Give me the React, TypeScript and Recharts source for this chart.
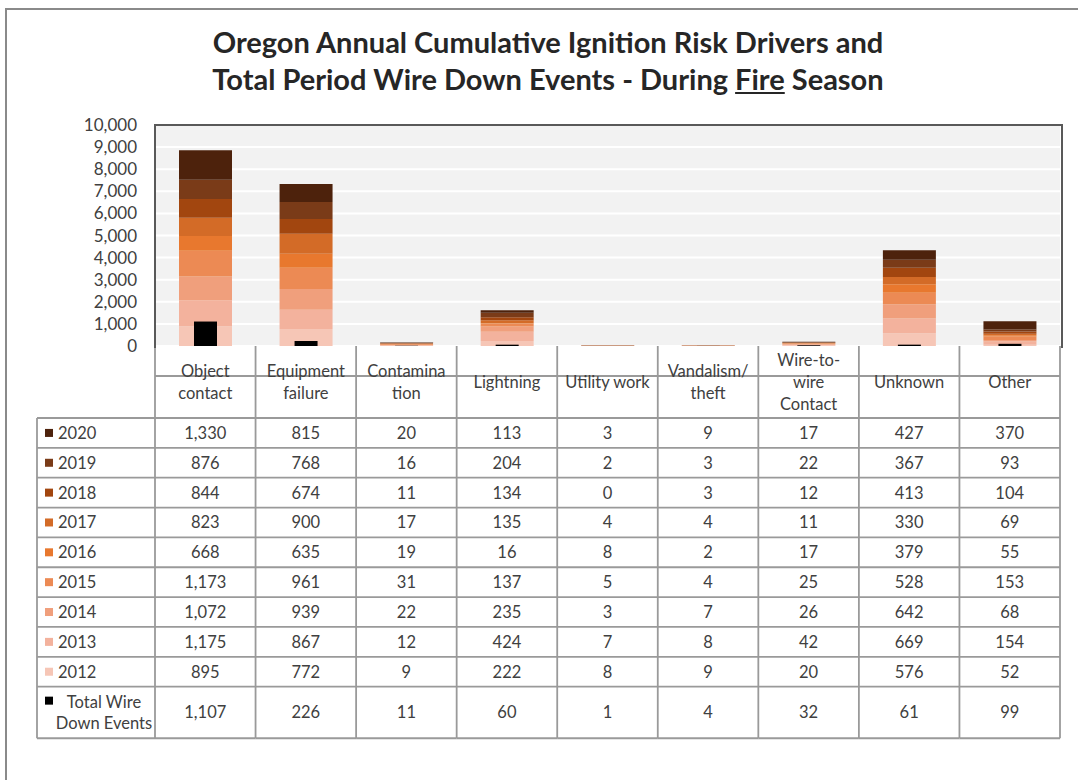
import React from 'react';
import { BarChart, Bar, XAxis, YAxis, CartesianGrid } from 'recharts';

const categories = ['Object contact', 'Equipment failure', 'Contamination', 'Lightning', 'Utility work', 'Vandalism/theft', 'Wire-to-wire Contact', 'Unknown', 'Other'];
const categoryLines = [['Object', 'contact'], ['Equipment', 'failure'], ['Contamina', 'tion'], ['Lightning'], ['Utility work'], ['Vandalism/', 'theft'], ['Wire-to-', 'wire', 'Contact'], ['Unknown'], ['Other']];

// table order, top row first
const years = ['2020', '2019', '2018', '2017', '2016', '2015', '2014', '2013', '2012'];
const v2020 = [1330, 815, 20, 113, 3, 9, 17, 427, 370];
const v2019 = [876, 768, 16, 204, 2, 3, 22, 367, 93];
const v2018 = [844, 674, 11, 134, 0, 3, 12, 413, 104];
const v2017 = [823, 900, 17, 135, 4, 4, 11, 330, 69];
const v2016 = [668, 635, 19, 16, 8, 2, 17, 379, 55];
const v2015 = [1173, 961, 31, 137, 5, 4, 25, 528, 153];
const v2014 = [1072, 939, 22, 235, 3, 7, 26, 642, 68];
const v2013 = [1175, 867, 12, 424, 7, 8, 42, 669, 154];
const v2012 = [895, 772, 9, 222, 8, 9, 20, 576, 52];
const totalWireDown = [1107, 226, 11, 60, 1, 4, 32, 61, 99];
const yearValues = [v2020, v2019, v2018, v2017, v2016, v2015, v2014, v2013, v2012];
const yearColors = ['#4d220c', '#7a3b18', '#a2460f', '#d36b27', '#e8782e', '#ec8a54', '#f09f7c', '#f3b29d', '#f6c6b6'];
const yTicks = [0, 1000, 2000, 3000, 4000, 5000, 6000, 7000, 8000, 9000, 10000];

const data = categories.map((cat, i) => {
  const row: any = { cat, total: totalWireDown[i] };
  years.forEach((yr, j) => {
    row['y' + yr] = yearValues[j][i];
  });
  return row;
});

const FONT = 'Lato, "Noto Sans", sans-serif';
const TEXT = '#404040';
const GRID = '#9a9a9a';
const PLOT_L = 155;
const PLOT_R = 1060;
const PLOT_T = 125;
const PLOT_B = 346;
const BAND = (PLOT_R - PLOT_L) / categories.length;
const HEAD_H = 72;
const ROW_H = 29.85;
const LAST_H = 51.6;
const TABLE_L = 37;

const fmt = (n: number) => n.toLocaleString('en-US');

// one table column per category tick; the first one also draws the legend column
const TableColumn = (props: any) => {
  const { x, index } = props;
  const y = PLOT_B;
  const left = x - BAND / 2;
  const right = x + BAND / 2;
  const rowTop = y + HEAD_H;
  const bottom = rowTop + ROW_H * years.length + LAST_H;
  const lines = categoryLines[index];
  const txt = { fontFamily: FONT, fontSize: 16.5, fill: TEXT, textAnchor: 'middle' as const, dominantBaseline: 'central' as const };

  const hLines = [];
  for (let r = 0; r <= years.length; r++) {
    hLines.push(rowTop + r * ROW_H);
  }
  hLines.push(bottom);

  return (
    <g>
      <line x1={left} x2={left} y1={y} y2={bottom} stroke={GRID} strokeWidth={1.8} />
      {index === categories.length - 1 && <line x1={right} x2={right} y1={y} y2={bottom} stroke={GRID} strokeWidth={1.8} />}
      {hLines.map((hy, k) => (
        <line key={k} x1={index === 0 ? TABLE_L : left} x2={right} y1={hy} y2={hy} stroke={GRID} strokeWidth={1.8} />
      ))}
      {lines.map((t, k) => (
        <text key={t} x={x} y={y + HEAD_H / 2 + (k - (lines.length - 1) / 2) * 22} {...txt}>{t}</text>
      ))}
      {years.map((yr, r) => (
        <text key={yr} x={x} y={rowTop + r * ROW_H + ROW_H / 2} {...txt}>{fmt(yearValues[r][index])}</text>
      ))}
      <text x={x} y={rowTop + years.length * ROW_H + LAST_H / 2} {...txt}>{fmt(totalWireDown[index])}</text>
      {index === 0 && (
        <g>
          <line x1={TABLE_L} x2={TABLE_L} y1={rowTop} y2={bottom} stroke={GRID} strokeWidth={1.8} />
          {years.map((yr, r) => (
            <g key={yr}>
              <rect x={TABLE_L + 8} y={rowTop + r * ROW_H + ROW_H / 2 - 4} width={8} height={8} fill={yearColors[r]} />
              <text x={TABLE_L + 21} y={rowTop + r * ROW_H + ROW_H / 2} {...txt} textAnchor="start">{yr}</text>
            </g>
          ))}
          <rect x={TABLE_L + 8} y={rowTop + years.length * ROW_H + 10} width={8} height={8} fill="#000" />
          <text x={TABLE_L + 67} y={rowTop + years.length * ROW_H + 15} {...txt}>Total Wire</text>
          <text x={TABLE_L + 67} y={rowTop + years.length * ROW_H + 36} {...txt}>Down Events</text>
        </g>
      )}
    </g>
  );
};

export default function App() {
  const stackOrder = years.map((yr, j) => ({ yr, color: yearColors[j] })).reverse();
  return (
    <div style={{ position: 'absolute', left: 0, top: 0, width: 1078, height: 780, overflow: 'hidden', background: '#fff', fontFamily: FONT }}>
      <div style={{ position: 'absolute', left: 5, top: 8, width: 1100, height: 800, border: '2px solid #8a8a8a' }} />
      <div style={{ position: 'absolute', left: 10, top: 23, width: 1076, textAlign: 'center', fontSize: 29, fontWeight: 700, lineHeight: '37px', color: '#262626' }}>
        <div>Oregon Annual Cumulative Ignition Risk Drivers and</div>
        <div>Total Period Wire Down Events - During <u>Fire</u> Season</div>
      </div>
      <div style={{ position: 'absolute', left: 0, top: 0 }}>
        <BarChart width={1078} height={780} data={data} margin={{ top: PLOT_T, right: 1078 - PLOT_R, left: 0, bottom: 14 }}>
          <CartesianGrid xAxisId="yr" vertical={false} stroke="#ffffff" strokeWidth={2} fill="#f2f2f2" />
          <XAxis xAxisId="yr" dataKey="cat" height={780 - PLOT_B - 14} interval={0} tickSize={0} tickMargin={0} tickLine={false} axisLine={{ stroke: GRID, strokeWidth: 1.8 }} tick={<TableColumn />} />
          <XAxis xAxisId="tot" dataKey="cat" hide />
          <YAxis width={PLOT_L} domain={[0, 10000]} ticks={yTicks} interval={0} tickSize={0} tickMargin={18} axisLine={false} tickLine={false} tickFormatter={fmt} tick={{ fontFamily: FONT, fontSize: 17, fill: TEXT }} />
          {stackOrder.map((s) => (
            <Bar key={s.yr} xAxisId="yr" dataKey={'y' + s.yr} name={s.yr} stackId="years" fill={s.color} barSize={53} isAnimationActive={false} />
          ))}
          <Bar xAxisId="tot" dataKey="total" name="Total Wire Down Events" fill="#000000" barSize={23} isAnimationActive={false} />
        </BarChart>
      </div>
      <div style={{ position: 'absolute', left: PLOT_L - 1, top: PLOT_T - 1, width: PLOT_R - PLOT_L, height: PLOT_B - PLOT_T + 1, borderTop: '2px solid #595959', borderLeft: '2px solid #595959', borderRight: '2px solid #595959', pointerEvents: 'none' }} />
    </div>
  );
}
